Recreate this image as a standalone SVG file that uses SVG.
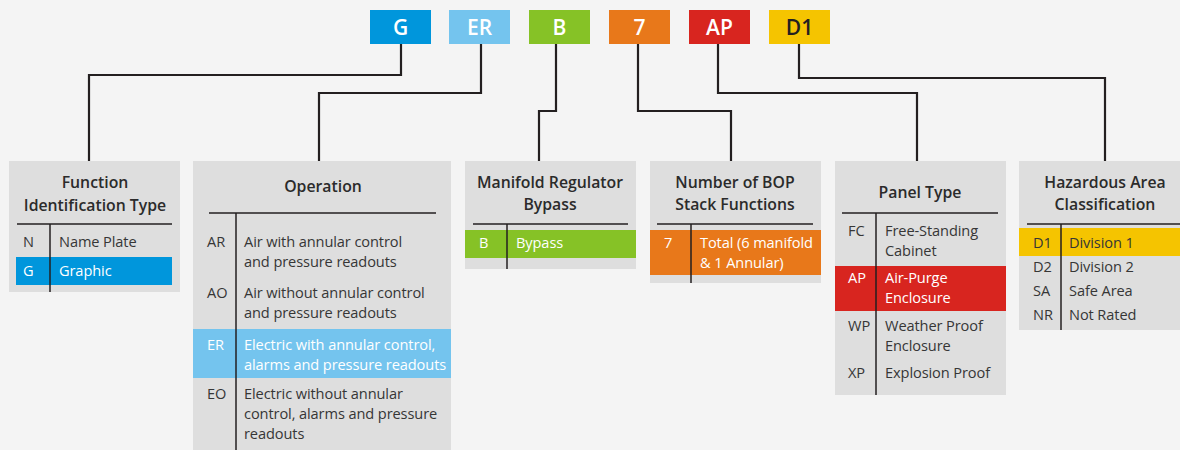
<svg xmlns="http://www.w3.org/2000/svg" width="1180" height="450" viewBox="0 0 1180 450">
  <style>
    .bg { fill: #f4f4f4; }
    .panel { fill: #dedede; }
    .code { font-family: "Open Sans", "Liberation Sans", sans-serif; font-size: 21px; font-weight: 600; text-anchor: middle; fill: #ffffff; }
    .title { font-family: "Open Sans", "Liberation Sans", sans-serif; font-size: 15.8px; font-weight: 600; text-anchor: middle; fill: #2b2b2b; }
    .item { font-family: "Open Sans", "Liberation Sans", sans-serif; font-size: 14.6px; letter-spacing: -0.1px; fill: #363636; }
    .inv { fill: #ffffff; }
    .rule { stroke: #231f20; stroke-width: 1.5; fill: none; }
    .link { stroke: #231f20; stroke-width: 2.2; fill: none; stroke-linejoin: miter; }
    .blue { fill: #0096dc; }
    .lblue { fill: #74c4ee; }
    .green { fill: #86c226; }
    .orange { fill: #e8781a; }
    .red { fill: #d8251f; }
    .yellow { fill: #f5c400; }
  </style>
  <rect class="bg" x="0" y="0" width="1180" height="450"/>

  <!-- model code segments -->
  <g id="codes">
    <g id="code-g"><rect class="blue" x="370" y="10" width="61" height="34"/><text class="code" x="400.5" y="34.5">G</text></g>
    <g id="code-er"><rect class="lblue" x="449" y="10" width="61" height="34"/><text class="code" x="479.5" y="34.5">ER</text></g>
    <g id="code-b"><rect class="green" x="529" y="10" width="61" height="34"/><text class="code" x="559.5" y="34.5">B</text></g>
    <g id="code-7"><rect class="orange" x="609" y="10" width="61" height="34"/><text class="code" x="639.5" y="34.5">7</text></g>
    <g id="code-ap"><rect class="red" x="689" y="10" width="61" height="34"/><text class="code" x="719.5" y="34.5">AP</text></g>
    <g id="code-d1"><rect class="yellow" x="769" y="10" width="61" height="34"/><text class="code" x="799.5" y="34.5" style="fill:#231f20">D1</text></g>
  </g>

  <!-- connectors from code segments to tables -->
  <g id="connectors">
    <path class="link" d="M401,44 V75 H89 V161"/>
    <path class="link" d="M481,44 V93 H319 V161"/>
    <path class="link" d="M556,44 V111 H539 V161"/>
    <path class="link" d="M638,44 V111 H731 V161"/>
    <path class="link" d="M718,44 V93 H917 V161"/>
    <path class="link" d="M799,44 V78 H1105 V161"/>
  </g>

  <!-- Function Identification Type -->
  <g id="function-id">
    <rect class="panel" x="9" y="161" width="171" height="131"/>
    <text class="title" x="95" y="188">Function</text>
    <text class="title" x="95" y="211">Identification Type</text>
    <rect class="blue" x="16" y="257" width="156" height="28"/>
    <line class="rule" x1="17" y1="224" x2="172" y2="224"/>
    <line class="rule" x1="50" y1="224" x2="50" y2="292"/>
    <text class="item" x="23" y="247">N</text><text class="item" x="59" y="247">Name Plate</text>
    <text class="item inv" x="23" y="276">G</text><text class="item inv" x="59" y="276">Graphic</text>
  </g>

  <!-- Operation -->
  <g id="operation">
    <rect class="panel" x="193" y="161" width="258" height="289"/>
    <text class="title" x="323" y="192">Operation</text>
    <rect class="lblue" x="193" y="329" width="258" height="49"/>
    <line class="rule" x1="209" y1="213" x2="436" y2="213"/>
    <line class="rule" x1="236" y1="213" x2="236" y2="450"/>
    <text class="item" x="207" y="247">AR</text>
    <text class="item" x="244" y="247">Air with annular control</text>
    <text class="item" x="244" y="267">and pressure readouts</text>
    <text class="item" x="207" y="298">AO</text>
    <text class="item" x="244" y="298">Air without annular control</text>
    <text class="item" x="244" y="318">and pressure readouts</text>
    <text class="item inv" x="207" y="350">ER</text>
    <text class="item inv" x="244" y="350">Electric with annular control,</text>
    <text class="item inv" x="244" y="370">alarms and pressure readouts</text>
    <text class="item" x="207" y="399">EO</text>
    <text class="item" x="244" y="399">Electric without annular</text>
    <text class="item" x="244" y="419">control, alarms and pressure</text>
    <text class="item" x="244" y="439">readouts</text>
  </g>

  <!-- Manifold Regulator Bypass -->
  <g id="manifold-bypass">
    <rect class="panel" x="465" y="161" width="171" height="108"/>
    <text class="title" x="550" y="188">Manifold Regulator</text>
    <text class="title" x="550" y="210">Bypass</text>
    <rect class="green" x="465" y="230" width="171" height="28"/>
    <line class="rule" x1="473" y1="224" x2="628" y2="224"/>
    <line class="rule" x1="507" y1="224" x2="507" y2="269"/>
    <text class="item inv" x="479" y="248">B</text>
    <text class="item inv" x="516" y="248">Bypass</text>
  </g>

  <!-- Number of BOP Stack Functions -->
  <g id="bop-functions">
    <rect class="panel" x="650" y="161" width="171" height="122"/>
    <text class="title" x="735" y="188">Number of BOP</text>
    <text class="title" x="735" y="210">Stack Functions</text>
    <rect class="orange" x="650" y="230" width="171" height="45"/>
    <line class="rule" x1="657" y1="224" x2="813" y2="224"/>
    <line class="rule" x1="691" y1="224" x2="691" y2="283"/>
    <text class="item inv" x="664" y="248">7</text>
    <text class="item inv" x="700" y="248">Total (6 manifold</text>
    <text class="item inv" x="700" y="268">&amp; 1 Annular)</text>
  </g>

  <!-- Panel Type -->
  <g id="panel-type">
    <rect class="panel" x="835" y="161" width="171" height="234"/>
    <text class="title" x="920" y="198">Panel Type</text>
    <rect class="red" x="835" y="266" width="171" height="45"/>
    <line class="rule" x1="842" y1="213" x2="998" y2="213"/>
    <line class="rule" x1="876" y1="213" x2="876" y2="395"/>
    <text class="item" x="848" y="236">FC</text>
    <text class="item" x="885" y="236">Free-Standing</text>
    <text class="item" x="885" y="256">Cabinet</text>
    <text class="item inv" x="848" y="283">AP</text>
    <text class="item inv" x="885" y="283">Air-Purge</text>
    <text class="item inv" x="885" y="303">Enclosure</text>
    <text class="item" x="848" y="331">WP</text>
    <text class="item" x="885" y="331">Weather Proof</text>
    <text class="item" x="885" y="351">Enclosure</text>
    <text class="item" x="848" y="378">XP</text>
    <text class="item" x="885" y="378">Explosion Proof</text>
  </g>

  <!-- Hazardous Area Classification -->
  <g id="hazardous-area">
    <rect class="panel" x="1019" y="161" width="161" height="169"/>
    <text class="title" x="1105" y="188">Hazardous Area</text>
    <text class="title" x="1105" y="210">Classification</text>
    <rect class="yellow" x="1019" y="228" width="161" height="28"/>
    <line class="rule" x1="1027" y1="224" x2="1180" y2="224"/>
    <line class="rule" x1="1061" y1="224" x2="1061" y2="330"/>
    <text class="item" x="1033" y="248">D1</text><text class="item" x="1069" y="248">Division 1</text>
    <text class="item" x="1033" y="272">D2</text><text class="item" x="1069" y="272">Division 2</text>
    <text class="item" x="1033" y="296">SA</text><text class="item" x="1069" y="296">Safe Area</text>
    <text class="item" x="1033" y="320">NR</text><text class="item" x="1069" y="320">Not Rated</text>
  </g>
</svg>
